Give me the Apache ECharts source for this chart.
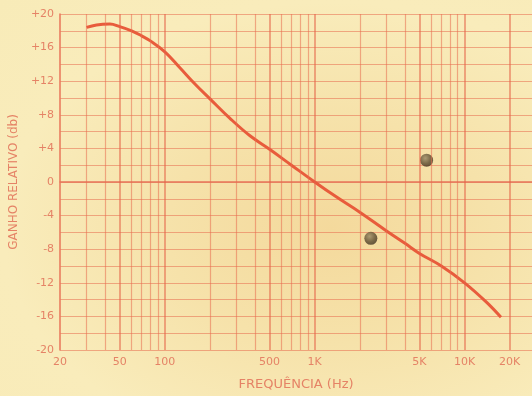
<!DOCTYPE html>
<html>
<head>
	<meta charset="utf-8">
	<title>Ganho relativo x frequência</title>
	<script type="text/javascript" src="https://cdn.jsdelivr.net/npm/echarts@6/dist/echarts.min.js"></script>
	<style>
		html, body { margin: 0; padding: 0; }
		#main {
			width: 532px; height: 396px;
			background: radial-gradient(ellipse at 62% 58%, #f4d99c 0%, #f6e2aa 35%, #f9ecbb 70%, #f8ebb8 100%);
		}
	</style>
</head>
<body>
	<div id="main"></div>
	<script type="text/javascript">
		// curva (Hz, dB)
		var freqs = [30, 35, 43, 50, 60, 70, 80, 100, 126, 160, 200, 271, 370, 500, 700, 1000, 1400, 2000, 3000, 4000, 5000, 7000, 10000, 14000, 17500];
		var gains = [18.4, 18.7, 18.8, 18.5, 18.0, 17.4, 16.8, 15.5, 13.6, 11.6, 9.9, 7.6, 5.5, 3.9, 2.0, 0, -1.8, -3.6, -5.8, -7.3, -8.5, -10.0, -12.0, -14.3, -16.1];

		// linhas verticais do papel log
		var gridFreqs = [30, 40, 50, 60, 70, 80, 90, 100, 200, 300, 400, 500, 600, 700, 800, 900,
			1000, 2000, 3000, 4000, 5000, 6000, 7000, 8000, 9000, 10000, 20000];
		var boldFreqs = [50, 100, 500, 1000, 5000, 10000, 20000];

		var xTickValues = [20, 50, 100, 500, 1000, 5000, 10000, 20000];
		var xTickLabels = ['20', '50', '100', '500', '1K', '5K', '10K', '20K'];
		var yTickValues = [20, 16, 12, 8, 4, 0, -4, -8, -12, -16, -20];
		var yTickLabels = ['+20', '+16', '+12', '+8', '+4', '0', '-4', '-8', '-12', '-16', '-20'];

		// manchas (furos) no papel
		var spotFreqs = [2370, 5580];
		var spotGains = [-6.7, 2.6];

		var red = '#e8765a';
		var textRed = '#e58366';

		var myChart = echarts.init(document.getElementById('main'));

		var option = {
			backgroundColor: 'transparent',
			animation: false,
			grid: { left: 60, right: 0, top: 14, bottom: 40 },
			xAxis: {
				type: 'log',
				logBase: 10,
				min: 20,
				max: 28200,
				name: 'FREQUÊNCIA (Hz)',
				nameLocation: 'middle',
				nameGap: 28,
				nameTextStyle: { color: textRed, fontSize: 13, fontFamily: 'DejaVu Sans' },
				axisLine: { show: true, lineStyle: { color: red, width: 1.5 } },
				axisTick: { show: false },
				splitLine: { show: false },
				axisLabel: {
					customValues: xTickValues,
					color: textRed,
					fontSize: 11,
					fontFamily: 'DejaVu Sans',
					margin: 7,
					formatter: function (v) {
						var i = xTickValues.indexOf(Math.round(v));
						return i >= 0 ? xTickLabels[i] : '';
					}
				}
			},
			yAxis: {
				type: 'value',
				min: -20,
				max: 20,
				interval: 2,
				name: 'GANHO RELATIVO (db)',
				nameLocation: 'middle',
				nameGap: 40,
				nameRotate: 90,
				nameTextStyle: { color: textRed, fontSize: 12, fontFamily: 'DejaVu Sans' },
				axisLine: { show: true, lineStyle: { color: red, width: 1.5 } },
				axisTick: { show: false },
				splitLine: { show: true, lineStyle: { color: 'rgba(232,110,80,0.55)', width: 1.2 } },
				axisLabel: {
					color: textRed,
					fontSize: 11,
					fontFamily: 'DejaVu Sans',
					margin: 6,
					formatter: function (v) {
						var i = yTickValues.indexOf(v);
						return i >= 0 ? yTickLabels[i] : '';
					}
				}
			},
			series: [
				{
					name: 'grade',
					type: 'line',
					data: [],
					z: 1,
					silent: true,
					markLine: {
						silent: true,
						symbol: ['none', 'none'],
						label: { show: false },
						data: gridFreqs.map(function (f) {
							var bold = boldFreqs.indexOf(f) >= 0;
							return {
								xAxis: f,
								lineStyle: {
									type: 'solid',
									color: bold ? 'rgba(228,100,72,0.7)' : 'rgba(232,110,80,0.55)',
									width: bold ? 1.5 : 1.2
								}
							};
						})
					}
				},
				{
					name: 'ganho',
					type: 'line',
					z: 3,
					smooth: 0.4,
					symbol: 'none',
					lineStyle: { color: '#e85c3c', width: 3 },
					data: freqs.map(function (f, i) { return [f, gains[i]]; })
				},
				{
					name: 'manchas',
					type: 'scatter',
					z: 4,
					symbolSize: 13,
					itemStyle: {
						color: new echarts.graphic.RadialGradient(0.4, 0.35, 0.7, [
							{ offset: 0, color: '#9a8a66' },
							{ offset: 0.6, color: '#5c4b30' },
							{ offset: 1, color: '#3e3020' }
						])
					},
					data: spotFreqs.map(function (f, i) { return [f, spotGains[i]]; })
				}
			]
		};

		myChart.setOption(option);
	</script>
</body>
</html>
